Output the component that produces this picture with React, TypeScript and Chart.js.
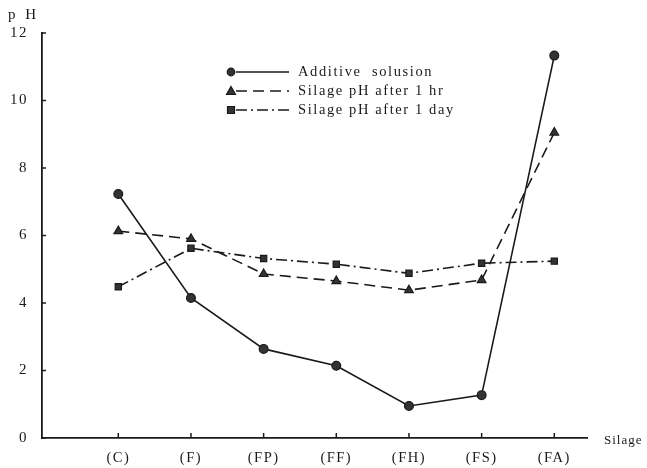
import React, { useEffect, useRef } from "react";
import { Chart, registerables } from "chart.js";

Chart.register(...registerables);

const categories = ["(C)", "(F)", "(FP)", "(FF)", "(FH)", "(FS)", "(FA)"];
const additive = [7.23, 4.15, 2.64, 2.14, 0.95, 1.27, 11.33];
const after1hr = [6.13, 5.9, 4.86, 4.65, 4.38, 4.68, 9.05];
const after1day = [4.48, 5.62, 5.32, 5.15, 4.88, 5.18, 5.24];
const yTicks = [0, 2, 4, 6, 8, 10, 12];
const seriesNames = ["Additive  solusion", "Silage pH after 1 hr", "Silage pH after 1 day"];

const FONT = "'Liberation Serif', 'DejaVu Serif', serif";
const INK = "#1a1a1a";

const toXY = (arr: number[]) => arr.map((v, i) => ({ x: i, y: v }));

const dashes: number[][] = [[], [11, 6], [11, 4, 2, 4]];
const styles = ["circle", "triangle", "rect"];

const extrasPlugin = {
  id: "extras",
  beforeDraw(chart: any) {
    (chart.ctx as any).letterSpacing = "1.5px";
  },
  afterDraw(chart: any) {
    const ctx = chart.ctx;
    const xs = chart.scales.x;
    const ys = chart.scales.y;
    ctx.save();
    ctx.strokeStyle = INK;
    ctx.lineWidth = 1.5;
    // inward tick marks
    yTicks.forEach((v) => {
      const py = ys.getPixelForValue(v);
      ctx.beginPath();
      ctx.moveTo(xs.left, py);
      ctx.lineTo(xs.left + 4, py);
      ctx.stroke();
    });
    categories.forEach((_, i) => {
      const px = xs.getPixelForValue(i);
      ctx.beginPath();
      ctx.moveTo(px, ys.bottom);
      ctx.lineTo(px, ys.bottom - 5);
      ctx.stroke();
    });
    // axis titles
    ctx.fillStyle = INK;
    ctx.textBaseline = "middle";
    ctx.textAlign = "left";
    ctx.letterSpacing = "3px";
    ctx.font = `15px ${FONT}`;
    ctx.fillText("p H", 8, 15);
    ctx.letterSpacing = "1px";
    ctx.font = `13px ${FONT}`;
    ctx.fillText("Silage", 604, 441);
    // legend
    const rows = [72, 91, 110];
    rows.forEach((ry, k) => {
      ctx.strokeStyle = INK;
      ctx.lineWidth = 1.5;
      ctx.setLineDash(dashes[k]);
      ctx.beginPath();
      ctx.moveTo(236, ry);
      ctx.lineTo(289, ry);
      ctx.stroke();
      ctx.setLineDash([]);
      ctx.fillStyle = "#333";
      ctx.strokeStyle = INK;
      ctx.lineWidth = 1.2;
      ctx.beginPath();
      if (k === 0) {
        ctx.arc(231, ry, 3.8, 0, Math.PI * 2);
      } else if (k === 1) {
        ctx.moveTo(231, ry - 4.5);
        ctx.lineTo(235.5, ry + 3.5);
        ctx.lineTo(226.5, ry + 3.5);
        ctx.closePath();
      } else {
        ctx.rect(227.5, ry - 3.5, 7, 7);
      }
      ctx.fill();
      ctx.stroke();
      ctx.fillStyle = INK;
      ctx.letterSpacing = "1.6px";
      ctx.font = `14.5px ${FONT}`;
      ctx.fillText(seriesNames[k], 298, ry);
    });
    ctx.restore();
    ctx.letterSpacing = "0px";
  },
};

export default function App() {
  const ref = useRef<HTMLCanvasElement>(null);
  useEffect(() => {
    if (!ref.current) return;
    const series = [additive, after1hr, after1day];
    const chart = new Chart(ref.current, {
      type: "line",
      data: {
        datasets: series.map((arr, k) => ({
          label: seriesNames[k],
          data: toXY(arr),
          borderColor: INK,
          borderWidth: 1.6,
          borderDash: dashes[k],
          backgroundColor: "#333",
          pointBackgroundColor: "#333",
          pointBorderColor: INK,
          pointBorderWidth: 1.2,
          pointStyle: styles[k] as any,
          pointRadius: k === 1 ? 5 : 4.4,
          tension: 0,
          fill: false,
        })),
      },
      options: {
        animation: false,
        responsive: false,
        maintainAspectRatio: false,
        layout: { padding: { top: 33, right: 60, left: 0, bottom: 0 } },
        plugins: { legend: { display: false }, tooltip: { enabled: false } },
        scales: {
          x: {
            type: "linear",
            min: -1.05,
            max: 6.45,
            grid: { display: false },
            border: { display: true, color: INK, width: 1.8 },
            afterBuildTicks: (s: any) => {
              s.ticks = categories.map((_, i) => ({ value: i }));
            },
            afterFit: (s: any) => {
              s.height = 30;
            },
            ticks: {
              autoSkip: false,
              maxRotation: 0,
              padding: 3,
              color: INK,
              font: { family: FONT, size: 14.5 },
              callback: (v: any) => categories[v] ?? "",
            },
          },
          y: {
            type: "linear",
            min: 0,
            max: 12,
            grid: { display: false },
            border: { display: true, color: INK, width: 1.8 },
            afterBuildTicks: (s: any) => {
              s.ticks = yTicks.map((v) => ({ value: v }));
            },
            afterFit: (s: any) => {
              s.width = 42;
            },
            ticks: {
              padding: 6,
              color: INK,
              font: { family: FONT, size: 15 },
            },
          },
        },
      },
      plugins: [extrasPlugin],
    });
    return () => chart.destroy();
  }, []);
  return (
    <div style={{ position: "absolute", left: 0, top: 0, width: 647, height: 468, background: "#fff" }}>
      <canvas ref={ref} width={647} height={468} style={{ width: 647, height: 468 }} />
    </div>
  );
}
